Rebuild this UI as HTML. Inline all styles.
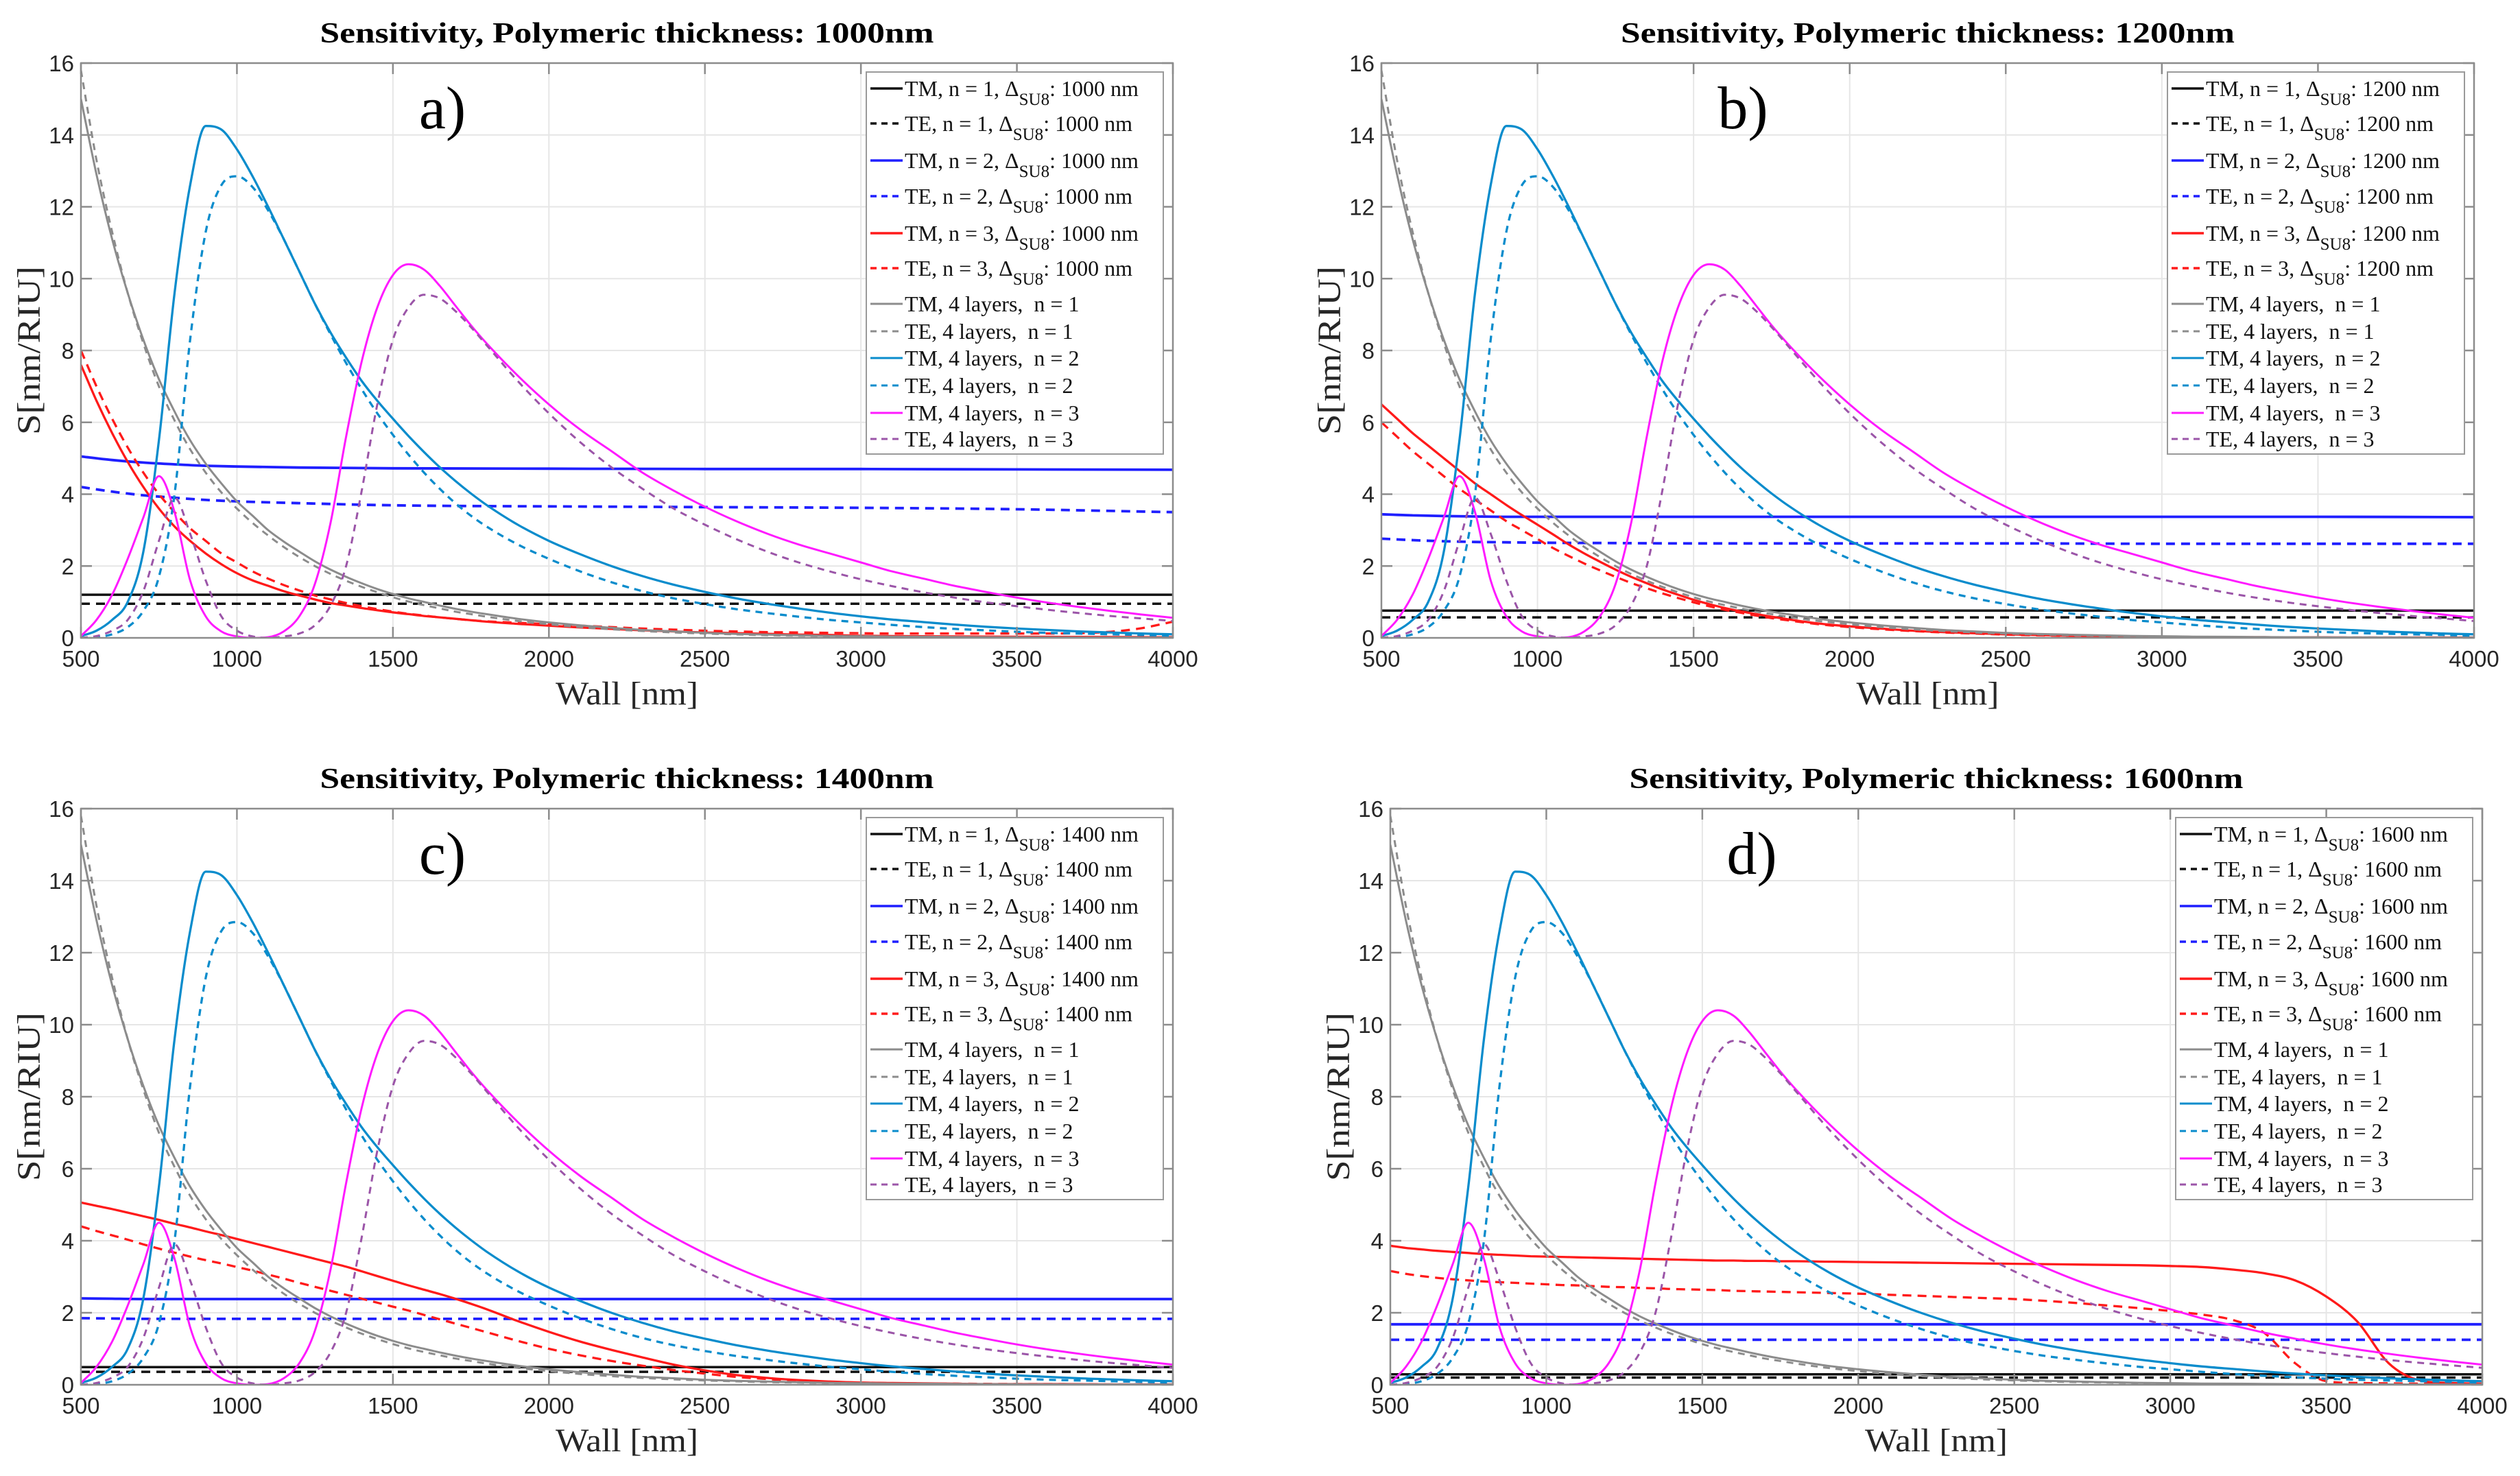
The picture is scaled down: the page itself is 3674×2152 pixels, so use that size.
<!DOCTYPE html>
<html><head><meta charset="utf-8"><style>
html,body{margin:0;padding:0;background:#fff;}
svg{display:block;}
</style></head><body>
<svg id="fig" xmlns="http://www.w3.org/2000/svg" width="3674" height="2152" viewBox="0 0 3674 2152"></svg>
<script>
// ---------- DATA ----------
const wall = [500,550,600,650,700,750,800,850,900,950,1000,1050,1100,1150,1200,1250,1300,1350,1400,1450,1500,1550,1600,1650,1700,1750,1800,1900,2000,2100,2200,2300,2400,2500,2600,2700,2800,2900,3000,3100,3200,3300,3400,3500,3600,3700,3800,3900,4000];
const wallCoarse = [500,600,700,800,900,1000,1200,1500,2000,2500,3000,3500,4000];
const thicknessLabels = ['1000','1200','1400','1600'];
const panelTags = ['a)','b)','c)','d)'];
const xTicks = [500,1000,1500,2000,2500,3000,3500,4000];
const yTicks = [0,2,4,6,8,10,12,14,16];

// shared 4-layer curves
const tm4n1 = [15.0,12.9,11.1,9.6,8.3,7.2,6.3,5.5,4.85,4.3,3.8,3.4,3.0,2.68,2.4,2.13,1.9,1.7,1.52,1.36,1.22,1.1,1.0,0.9,0.81,0.73,0.66,0.53,0.43,0.35,0.28,0.22,0.18,0.14,0.11,0.09,0.07,0.055,0.045,0.035,0.03,0.025,0.02,0.015,0.012,0.01,0.008,0.006,0.005];
const te4n1 = [15.8,13.3,11.3,9.6,8.2,7.0,6.05,5.25,4.6,4.05,3.6,3.2,2.85,2.53,2.25,2.0,1.78,1.59,1.42,1.27,1.13,1.01,0.91,0.82,0.73,0.66,0.59,0.47,0.38,0.3,0.24,0.19,0.15,0.12,0.095,0.075,0.06,0.045,0.035,0.028,0.022,0.018,0.014,0.011,0.009,0.007,0.005,0.004,0.003];
const tm4n2 = [0.05,0.2,0.5,1.0,2.4,5.5,9.6,12.6,14.25,14.15,13.6,12.85,12.0,11.1,10.2,9.3,8.5,7.8,7.15,6.6,6.1,5.62,5.17,4.75,4.37,4.02,3.7,3.15,2.7,2.33,2.0,1.72,1.48,1.28,1.1,0.95,0.82,0.7,0.6,0.51,0.44,0.37,0.31,0.26,0.22,0.18,0.15,0.12,0.1];
const te4n2 = [0,0.02,0.1,0.3,0.75,1.7,4.0,8.3,11.3,12.6,12.85,12.55,11.9,11.1,10.2,9.3,8.45,7.65,6.92,6.25,5.65,5.1,4.6,4.15,3.75,3.4,3.1,2.6,2.2,1.85,1.55,1.3,1.1,0.94,0.8,0.69,0.59,0.5,0.43,0.36,0.3,0.25,0.21,0.17,0.14,0.12,0.1,0.08,0.06];
const tm4n3 = [0.05,0.5,1.2,2.2,3.35,4.5,3.5,1.6,0.6,0.18,0.04,0.0,0.02,0.18,0.6,1.5,3.2,5.6,7.7,9.2,10.1,10.4,10.25,9.8,9.25,8.7,8.2,7.3,6.5,5.8,5.2,4.6,4.1,3.65,3.25,2.9,2.6,2.35,2.1,1.85,1.65,1.45,1.28,1.12,0.98,0.86,0.75,0.65,0.56];
const te4n3 = [0,0.05,0.2,0.5,1.3,2.7,3.9,2.9,1.6,0.6,0.2,0.04,0.0,0.04,0.12,0.35,0.9,2.0,4.1,6.5,8.3,9.2,9.55,9.45,9.1,8.65,8.15,7.15,6.25,5.45,4.75,4.15,3.6,3.15,2.75,2.4,2.1,1.85,1.63,1.44,1.27,1.12,0.99,0.88,0.78,0.69,0.61,0.54,0.47];

// per-panel n=1 (flat) values
const tmN1 = [1.2,0.76,0.49,0.29];
const teN1 = [0.95,0.57,0.36,0.2];
// per-panel n=2 curves on coarse grid
const tmN2a = [5.05,4.95,4.88,4.83,4.79,4.77,4.74,4.72,4.71,4.7,4.7,4.69,4.68];
const teN2a = [4.2,4.07,3.97,3.9,3.84,3.8,3.75,3.69,3.66,3.64,3.62,3.58,3.5];
const tmN2b = [3.44,3.41,3.39,3.38,3.37,3.37,3.37,3.37,3.37,3.37,3.37,3.37,3.36];
const teN2b = [2.76,2.72,2.69,2.67,2.66,2.65,2.64,2.63,2.63,2.63,2.62,2.62,2.62];
const tmN2c = [2.4,2.39,2.38,2.38,2.38,2.38,2.38,2.38,2.38,2.38,2.38,2.38,2.38];
const teN2c = [1.85,1.84,1.83,1.83,1.83,1.83,1.83,1.83,1.83,1.83,1.83,1.83,1.83];
const tmN2d = [1.68,1.68,1.68,1.68,1.68,1.68,1.68,1.68,1.68,1.68,1.68,1.68,1.68];
const teN2d = [1.25,1.25,1.25,1.25,1.25,1.25,1.25,1.25,1.25,1.25,1.25,1.25,1.25];
// per-panel n=3 curves on full grid
const tmN3a = [7.6,6.6,5.7,4.9,4.2,3.6,3.1,2.7,2.35,2.05,1.8,1.6,1.45,1.3,1.18,1.07,0.97,0.9,0.83,0.77,0.71,0.66,0.61,0.57,0.53,0.49,0.45,0.39,0.34,0.29,0.25,0.21,0.18,0.15,0.13,0.11,0.09,0.08,0.06,0.05,0.045,0.04,0.035,0.03,0.028,0.025,0.022,0.02,0.02];
const teN3a = [8.0,7.0,6.1,5.3,4.6,4.0,3.5,3.05,2.7,2.35,2.1,1.85,1.65,1.47,1.32,1.18,1.07,0.97,0.88,0.8,0.73,0.67,0.62,0.57,0.53,0.49,0.46,0.42,0.38,0.34,0.3,0.26,0.23,0.2,0.18,0.16,0.15,0.14,0.13,0.12,0.12,0.12,0.12,0.12,0.12,0.13,0.17,0.27,0.45];
const tmN3b = [6.5,6.1,5.7,5.35,5.0,4.65,4.3,4.0,3.7,3.42,3.15,2.88,2.6,2.35,2.12,1.9,1.7,1.52,1.35,1.2,1.06,0.94,0.83,0.74,0.66,0.59,0.52,0.4,0.32,0.26,0.2,0.16,0.13,0.1,0.08,0.06,0.05,0.04,0.03,0.025,0.02,0.02,0.015,0.015,0.01,0.01,0.01,0.01,0.01];
const teN3b = [6.0,5.6,5.2,4.85,4.5,4.15,3.85,3.55,3.25,3.0,2.75,2.5,2.28,2.07,1.88,1.7,1.53,1.38,1.24,1.11,0.99,0.88,0.78,0.7,0.62,0.55,0.49,0.38,0.3,0.24,0.19,0.15,0.12,0.09,0.07,0.055,0.045,0.035,0.028,0.022,0.018,0.015,0.012,0.01,0.01,0.01,0.01,0.01,0.01];
const tmN3c = [5.06,4.97,4.88,4.78,4.68,4.58,4.47,4.37,4.26,4.16,4.05,3.94,3.83,3.72,3.61,3.5,3.39,3.28,3.15,3.02,2.89,2.76,2.64,2.52,2.39,2.25,2.1,1.77,1.47,1.2,0.97,0.76,0.56,0.4,0.27,0.19,0.13,0.09,0.06,0.05,0.04,0.03,0.02,0.02,0.02,0.015,0.01,0.01,0.01];
const teN3c = [4.4,4.27,4.15,4.03,3.9,3.78,3.67,3.56,3.46,3.37,3.27,3.17,3.06,2.95,2.83,2.72,2.61,2.5,2.39,2.28,2.17,2.06,1.94,1.82,1.7,1.58,1.46,1.22,1.0,0.82,0.66,0.53,0.41,0.31,0.22,0.16,0.11,0.08,0.06,0.045,0.035,0.03,0.025,0.02,0.02,0.015,0.01,0.01,0.01];
const tmN3d = [3.86,3.8,3.76,3.72,3.69,3.66,3.63,3.61,3.59,3.57,3.56,3.55,3.54,3.53,3.52,3.51,3.5,3.49,3.48,3.47,3.46,3.45,3.45,3.44,3.44,3.43,3.43,3.42,3.41,3.4,3.39,3.38,3.37,3.36,3.35,3.34,3.33,3.32,3.3,3.27,3.2,3.1,2.9,2.45,1.75,0.6,0.12,0.05,0.03];
const teN3d = [3.16,3.08,3.02,2.97,2.93,2.9,2.87,2.85,2.83,2.81,2.79,2.77,2.76,2.74,2.72,2.71,2.69,2.68,2.66,2.65,2.64,2.63,2.61,2.6,2.59,2.58,2.57,2.55,2.53,2.5,2.47,2.44,2.41,2.38,2.33,2.27,2.2,2.13,2.05,1.95,1.8,1.45,0.6,0.1,0.05,0.04,0.03,0.03,0.03];

const tmN2 = [tmN2a,tmN2b,tmN2c,tmN2d];
const teN2 = [teN2a,teN2b,teN2c,teN2d];
const tmN3 = [tmN3a,tmN3b,tmN3c,tmN3d];
const teN3 = [teN3a,teN3b,teN3c,teN3d];

// ---------- LAYOUT ----------
const panels = [
  {L:118,R:1710,T:92,B:930},
  {L:2014,R:3607,T:92,B:930},
  {L:118,R:1710,T:1179,B:2019},
  {L:2027,R:3619,T:1179,B:2019}
];
const NS = 'http://www.w3.org/2000/svg';
const svg = document.getElementById('fig');
function mk(tag, attrs, parent){
  const e = document.createElementNS(NS, tag);
  for (const k in attrs) e.setAttribute(k, attrs[k]);
  (parent||svg).appendChild(e);
  return e;
}
function monoPath(px, py){
  const n = px.length; const d=[], m=[];
  for(let i=0;i<n-1;i++) d.push((py[i+1]-py[i])/(px[i+1]-px[i]));
  m[0]=d[0]; m[n-1]=d[n-2];
  for(let i=1;i<n-1;i++){ m[i] = (d[i-1]*d[i]<=0)?0:(d[i-1]+d[i])/2; }
  for(let i=0;i<n-1;i++){
    if(d[i]===0){m[i]=0;m[i+1]=0;continue;}
    const a=m[i]/d[i], b=m[i+1]/d[i], s=a*a+b*b;
    if(s>9){const t=3/Math.sqrt(s); m[i]=t*a*d[i]; m[i+1]=t*b*d[i];}
  }
  let p = 'M'+px[0].toFixed(1)+','+py[0].toFixed(1);
  for(let i=0;i<n-1;i++){
    const h=(px[i+1]-px[i])/3;
    p += ' C'+(px[i]+h).toFixed(1)+','+(py[i]+m[i]*h).toFixed(1)+' '+(px[i+1]-h).toFixed(1)+','+(py[i+1]-m[i+1]*h).toFixed(1)+' '+px[i+1].toFixed(1)+','+py[i+1].toFixed(1);
  }
  return p;
}

const C = {black:'#111111', blue:'#1f1fff', red:'#ff1a1a', grey:'#8c8c8c', cyan:'#0a8ccc', mag:'#ff1aff', purp:'#9b55a8'};
const DASH = '13 9', DASH2 = '10 8';

panels.forEach((P, pi) => {
  const g = mk('g', {});
  
  
  const sx = v => P.L + (v-500)/3500*(P.R-P.L);
  const sy = v => P.B - v/16*(P.B-P.T);
  const cx = (P.L+P.R)/2;

  const title = mk('text', {x:cx, y:P.T-30, 'text-anchor':'middle', 'font-family':'"Liberation Serif", serif', 'font-weight':'bold', 'font-size':'42', textLength:'895', lengthAdjust:'spacingAndGlyphs', fill:'#000'}, g);
  title.textContent = 'Sensitivity, Polymeric thickness: ' + thicknessLabels[pi] + 'nm';
  
  

  const grid = mk('g', {stroke:'#e6e6e6', 'stroke-width':'2'}, g);
  
  
  xTicks.forEach(t => mk('line', {x1:sx(t), x2:sx(t), y1:P.T, y2:P.B}, grid));
  yTicks.forEach(t => mk('line', {x1:P.L, x2:P.R, y1:sy(t), y2:sy(t)}, grid));

  const cid = 'clip'+pi;
  const cp = mk('clipPath', {id:cid}, g);
  mk('rect', {x:P.L, y:P.T-3, width:P.R-P.L, height:P.B-P.T+4}, cp);
  const sg = mk('g', {'clip-path':'url(#'+cid+')', fill:'none', 'stroke-linejoin':'round'}, g);
  
  

  function draw(xs, ys, color, w, dash, name){
    const p = mk('path', {d: monoPath(xs.map(sx), ys.map(sy)), stroke:color, 'stroke-width':w}, sg);
    if (dash) p.setAttribute('stroke-dasharray', dash);
    
    
  }
  draw([500,4000], [tmN1[pi],tmN1[pi]], C.black, 3.5, null, 'line-tm-n1');
  draw([500,4000], [teN1[pi],teN1[pi]], C.black, 3.5, DASH, 'line-te-n1');
  draw(wallCoarse, tmN2[pi], C.blue, 3.8, null, 'line-tm-n2');
  draw(wallCoarse, teN2[pi], C.blue, 3.8, DASH, 'line-te-n2');
  draw(wall, tmN3[pi], C.red, 3.3, null, 'line-tm-n3');
  draw(wall, teN3[pi], C.red, 3.3, DASH, 'line-te-n3');
  draw(wall, tm4n1, C.grey, 3, null, 'line-tm-4layers-n1');
  draw(wall, te4n1, C.grey, 3, DASH2, 'line-te-4layers-n1');
  draw(wall, tm4n2, C.cyan, 3.3, null, 'line-tm-4layers-n2');
  draw(wall, te4n2, C.cyan, 3.3, DASH2, 'line-te-4layers-n2');
  draw(wall, tm4n3, C.mag, 3, null, 'line-tm-4layers-n3');
  draw(wall, te4n3, C.purp, 3, DASH2, 'line-te-4layers-n3');

  const ax = mk('g', {stroke:'#8c8c8c', 'stroke-width':'2.5', fill:'none'}, g);
  
  
  mk('rect', {x:P.L, y:P.T, width:P.R-P.L, height:P.B-P.T}, ax);
  xTicks.forEach(t => { mk('line',{x1:sx(t),x2:sx(t),y1:P.B,y2:P.B-16},ax); mk('line',{x1:sx(t),x2:sx(t),y1:P.T,y2:P.T+16},ax); });
  yTicks.forEach(t => { mk('line',{x1:P.L,x2:P.L+16,y1:sy(t),y2:sy(t)},ax); mk('line',{x1:P.R,x2:P.R-16,y1:sy(t),y2:sy(t)},ax); });

  const tl = mk('g', {'font-family':'"Liberation Sans", sans-serif', 'font-size':'33', fill:'#262626'}, g);
  
  
  xTicks.forEach(t => { const e = mk('text',{x:sx(t), y:P.B+42, 'text-anchor':'middle'}, tl); e.textContent = t;
      });
  yTicks.forEach(t => { const e = mk('text',{x:P.L-10, y:sy(t)+12, 'text-anchor':'end'}, tl); e.textContent = t;
      });

  const xl = mk('text', {x:cx, y:P.B+97, 'text-anchor':'middle', 'font-family':'"Liberation Serif", serif', 'font-size':'48', textLength:'208', lengthAdjust:'spacingAndGlyphs', fill:'#262626'}, g);
  xl.textContent = 'Wall [nm]';
  
  
  const ym = (P.T+P.B)/2, yx = P.L-60;
  const yl = mk('text', {x:yx, y:ym, transform:'rotate(-90 '+yx+' '+ym+')', 'text-anchor':'middle', 'font-family':'"Liberation Serif", serif', 'font-size':'48', textLength:'246', lengthAdjust:'spacingAndGlyphs', fill:'#262626'}, g);
  yl.textContent = 'S[nm/RIU]';
  
  

  const tag = mk('text', {x:P.L+527, y:P.T+95, 'text-anchor':'middle', 'font-family':'"Liberation Serif", serif', 'font-size':'88', fill:'#000'}, g);
  tag.textContent = panelTags[pi];
  
  

  const lg = mk('g', {}, g);
  
  
  const LR = P.R-14, LL = LR-433, LT = P.T+13;
  mk('rect', {x:LL, y:LT, width:433, height:557, fill:'#fff', stroke:'#9a9a9a', 'stroke-width':'2'}, lg);
  const th = thicknessLabels[pi];
  const entries = [
    {c:C.black,d:null,pre:'TM, n = 1, Δ',sub:true,w:3.5},
    {c:C.black,d:'9 7',pre:'TE, n = 1, Δ',sub:true,w:3.5},
    {c:C.blue,d:null,pre:'TM, n = 2, Δ',sub:true,w:3.5},
    {c:C.blue,d:'9 7',pre:'TE, n = 2, Δ',sub:true,w:3.5},
    {c:C.red,d:null,pre:'TM, n = 3, Δ',sub:true,w:3.5},
    {c:C.red,d:'9 7',pre:'TE, n = 3, Δ',sub:true,w:3.5},
    {c:C.grey,d:null,pre:'TM, 4 layers,  n = 1'},
    {c:C.grey,d:'9 7',pre:'TE, 4 layers,  n = 1'},
    {c:C.cyan,d:null,pre:'TM, 4 layers,  n = 2'},
    {c:C.cyan,d:'9 7',pre:'TE, 4 layers,  n = 2'},
    {c:C.mag,d:null,pre:'TM, 4 layers,  n = 3'},
    {c:C.purp,d:'9 7',pre:'TE, 4 layers,  n = 3'}
  ];
  const rowY = [24,75,129,181,235,286,338,378,417,457,497,535];
  entries.forEach((en, i) => {
    const ly = LT + rowY[i];
    const eg = mk('g', {}, lg);
    
    
    const ln = mk('line', {x1:LL+6, x2:LL+53, y1:ly, y2:ly, stroke:en.c, 'stroke-width':en.w||3}, eg);
    if (en.d) ln.setAttribute('stroke-dasharray', en.d);
    const t = mk('text', {x:LL+56, y:ly+11, 'font-family':'"Liberation Serif", serif', 'font-size':'32', fill:'#111', 'xml:space':'preserve', style:'white-space:pre'}, eg);
    if (en.sub) {
      const a = mk('tspan', {}, t); a.textContent = en.pre;
      const b = mk('tspan', {dy:'13', 'font-size':'25'}, t); b.textContent = 'SU8';
      const c = mk('tspan', {dy:'-13'}, t); c.textContent = ': ' + th + ' nm';
    } else {
      t.textContent = en.pre;
    }
  });
});
</script>
</body></html>
